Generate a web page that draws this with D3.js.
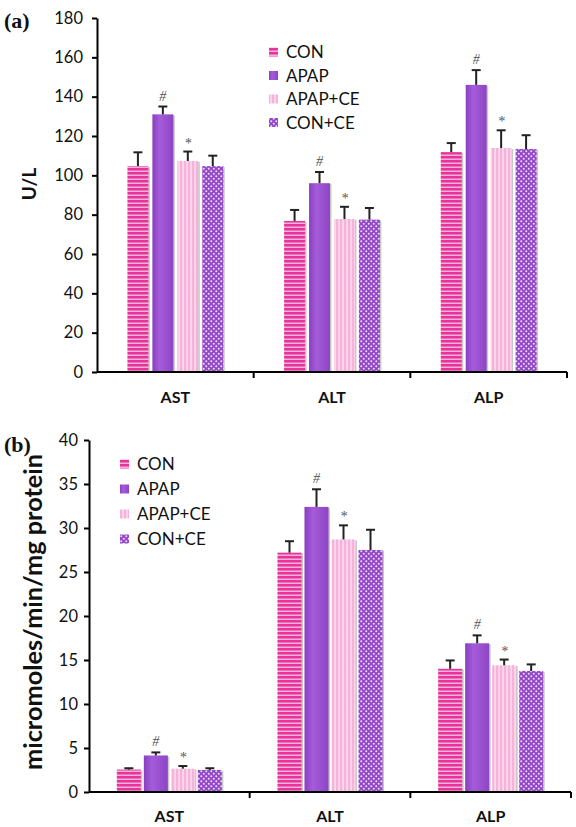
<!DOCTYPE html>
<html><head><meta charset="utf-8">
<script src="https://cdn.jsdelivr.net/npm/d3@7"></script>
<style>body{margin:0;background:#fff}svg{display:block}</style>
</head><body><div id="c"></div>
<script>
const categories = ["AST","ALT","ALP"];
const groups = ["CON","APAP","APAP+CE","CON+CE"];
// panel (a) serum U/L
const aValues = [[104.7,131,107.3,104.7],[76.8,96,77.8,77.5],[111.8,146,113.9,113.4]];
const aErrors = [[7,4,4.8,5.3],[5.6,5.7,6.2,5.9],[4.6,7.5,9,7]];
// panel (b) tissue micromoles/min/mg protein
const bValues = [[2.55,4.15,2.65,2.5],[27.2,32.4,28.7,27.5],[14.0,16.9,14.4,13.75]];
const bErrors = [[0.15,0.35,0.3,0.2],[1.3,2.0,1.6,2.3],[0.95,0.9,0.65,0.75]];
const marks = ["", "#", "*", ""];
const aTicks = [0,20,40,60,80,100,120,140,160,180];
const bTicks = [0,5,10,15,20,25,30,35,40];

const W=576,H=827;
const svg=d3.select("#c").append("svg").attr("width",W).attr("height",H);
const defs=svg.append("defs");
const font="Lato, 'Open Sans', sans-serif";

function pat(id,w,h,bg,draw){
  const p=defs.append("pattern").attr("id",id).attr("patternUnits","userSpaceOnUse").attr("width",w).attr("height",h);
  p.append("rect").attr("width",w).attr("height",h).attr("fill",bg);
  draw(p);
}
pat("pCON",4,4,"#e8349a",p=>p.append("rect").attr("y",2.6).attr("width",4).attr("height",1.2).attr("fill","#fbd0ea"));
pat("pAPCE",4,4,"#f6b3da",p=>p.append("rect").attr("x",2.5).attr("width",1.1).attr("height",4).attr("fill","#fff0f8"));
pat("pCONCE",5,5,"#9447c6",p=>{p.append("circle").attr("cx",1.25).attr("cy",1.25).attr("r",1).attr("fill","#eedcf8");p.append("circle").attr("cx",3.75).attr("cy",3.75).attr("r",1).attr("fill","#eedcf8");});
const gr=defs.append("linearGradient").attr("id","gAPAP");
gr.append("stop").attr("offset","0").attr("stop-color","#8a3fc0");
gr.append("stop").attr("offset","0.35").attr("stop-color","#a45cdb");
gr.append("stop").attr("offset","1").attr("stop-color","#8e45c4");
const fills=["url(#pCON)","url(#gAPAP)","url(#pAPCE)","url(#pCONCE)"];

function panel(cfg){
  const g=svg.append("g");
  const x=d3.scaleBand().domain(categories).range([cfg.x0,cfg.x1]);
  const y=d3.scaleLinear().domain([0,cfg.max]).range([cfg.y0,cfg.y1]);
  const inner=d3.scaleBand().domain(groups).range([0,x.bandwidth()]).paddingInner(cfg.pi).paddingOuter(cfg.po);
  categories.forEach((c,ci)=>{
    groups.forEach((s,si)=>{
      const v=cfg.values[ci][si], e=cfg.errors[ci][si];
      const bx=x(c)+inner(s), bw=inner.bandwidth();
      g.append("rect").attr("x",bx+1.5).attr("y",y(v)+1).attr("width",bw).attr("height",y(0)-y(v)-1).attr("fill","#c8c8c8");
      g.append("rect").attr("x",bx).attr("y",y(v)).attr("width",bw).attr("height",y(0)-y(v)).attr("fill",fills[si]);
      const cx=bx+bw/2;
      g.append("line").attr("x1",cx).attr("x2",cx).attr("y1",y(v)).attr("y2",y(v+e)).attr("stroke","#222").attr("stroke-width",2);
      g.append("line").attr("x1",cx-4.5).attr("x2",cx+4.5).attr("y1",y(v+e)).attr("y2",y(v+e)).attr("stroke","#222").attr("stroke-width",2);
      if(marks[si]) g.append("text").attr("x",cx).attr("y",y(v+e)-(marks[si]=="*"?4:6)).attr("text-anchor","middle")
        .attr("font-family","'Liberation Serif', serif").attr("font-style","italic").attr("font-size",14).attr("fill","#555").text(marks[si]);
    });
  });
  const ya=g.append("g").attr("transform",`translate(${cfg.x0},0)`).call(d3.axisLeft(y).tickValues(cfg.ticks).tickSize(5).tickSizeOuter(0).tickPadding(cfg.tp));
  ya.select(".domain").attr("stroke","#000").attr("stroke-width",2);
  ya.selectAll(".tick line").attr("stroke","#000").attr("stroke-width",2);
  ya.selectAll(".tick text").attr("font-family",font).attr("font-size",16.5).attr("fill","#111");
  const xa=g.append("g").attr("transform",`translate(0,${cfg.y0})`);
  xa.append("line").attr("x1",cfg.x0).attr("x2",cfg.x1).attr("stroke","#000").attr("stroke-width",2);
  [...categories.map(c=>x(c)).slice(1),cfg.x1].forEach(t=>xa.append("line").attr("x1",t).attr("x2",t).attr("y1",0).attr("y2",6).attr("stroke","#000").attr("stroke-width",2));
  categories.forEach(c=>xa.append("text").attr("x",x(c)+x.bandwidth()/2).attr("y",cfg.catDy).attr("text-anchor","middle")
    .attr("font-family",font).attr("font-weight","bold").attr("font-size",16).attr("fill","#111").text(c));
  const lab=g.append("text").attr("transform",`translate(${cfg.labX},${cfg.labY}) rotate(-90)`).attr("text-anchor","middle")
    .attr("font-family",font).attr("font-weight","bold").attr("font-size",20).attr("fill","#111").text(cfg.label);
  if(cfg.labLen){ const len=lab.node().getComputedTextLength(); lab.attr("font-size",20*cfg.labLen/len); }
  else lab.attr("font-size",cfg.labSize);
  g.append("text").attr("x",4).attr("y",cfg.letterY).attr("font-family","'Liberation Serif', serif").attr("font-weight","bold").attr("font-size",22).attr("fill","#111").text(cfg.letter);
  groups.forEach((s,i)=>{
    const ly=cfg.legY+i*cfg.legStep;
    g.append("rect").attr("x",cfg.legX).attr("y",ly-4.5).attr("width",9).attr("height",9).attr("fill",fills[i]);
    g.append("text").attr("x",cfg.legX+17).attr("y",ly+6).attr("font-family",font).attr("font-size",17).attr("fill","#111").text(s);
  });
}

panel({x0:97,x1:567,y0:372,y1:18,max:180,ticks:aTicks,values:aValues,errors:aErrors,pi:0.16,po:1.22,tp:9,
  catDy:31,labX:36,labY:184,labSize:19,label:"U/L",letter:"(a)",letterY:28,legX:269,legY:52,legStep:23.5});
panel({x0:89,x1:571,y0:792,y1:440,max:40,ticks:bTicks,values:bValues,errors:bErrors,pi:0.11,po:1.03,tp:6,
  catDy:30,labX:42,labY:612,labLen:316,label:"micromoles/min/mg protein",letter:"(b)",letterY:452,legX:120,legY:464,legStep:25});
</script></body></html>
